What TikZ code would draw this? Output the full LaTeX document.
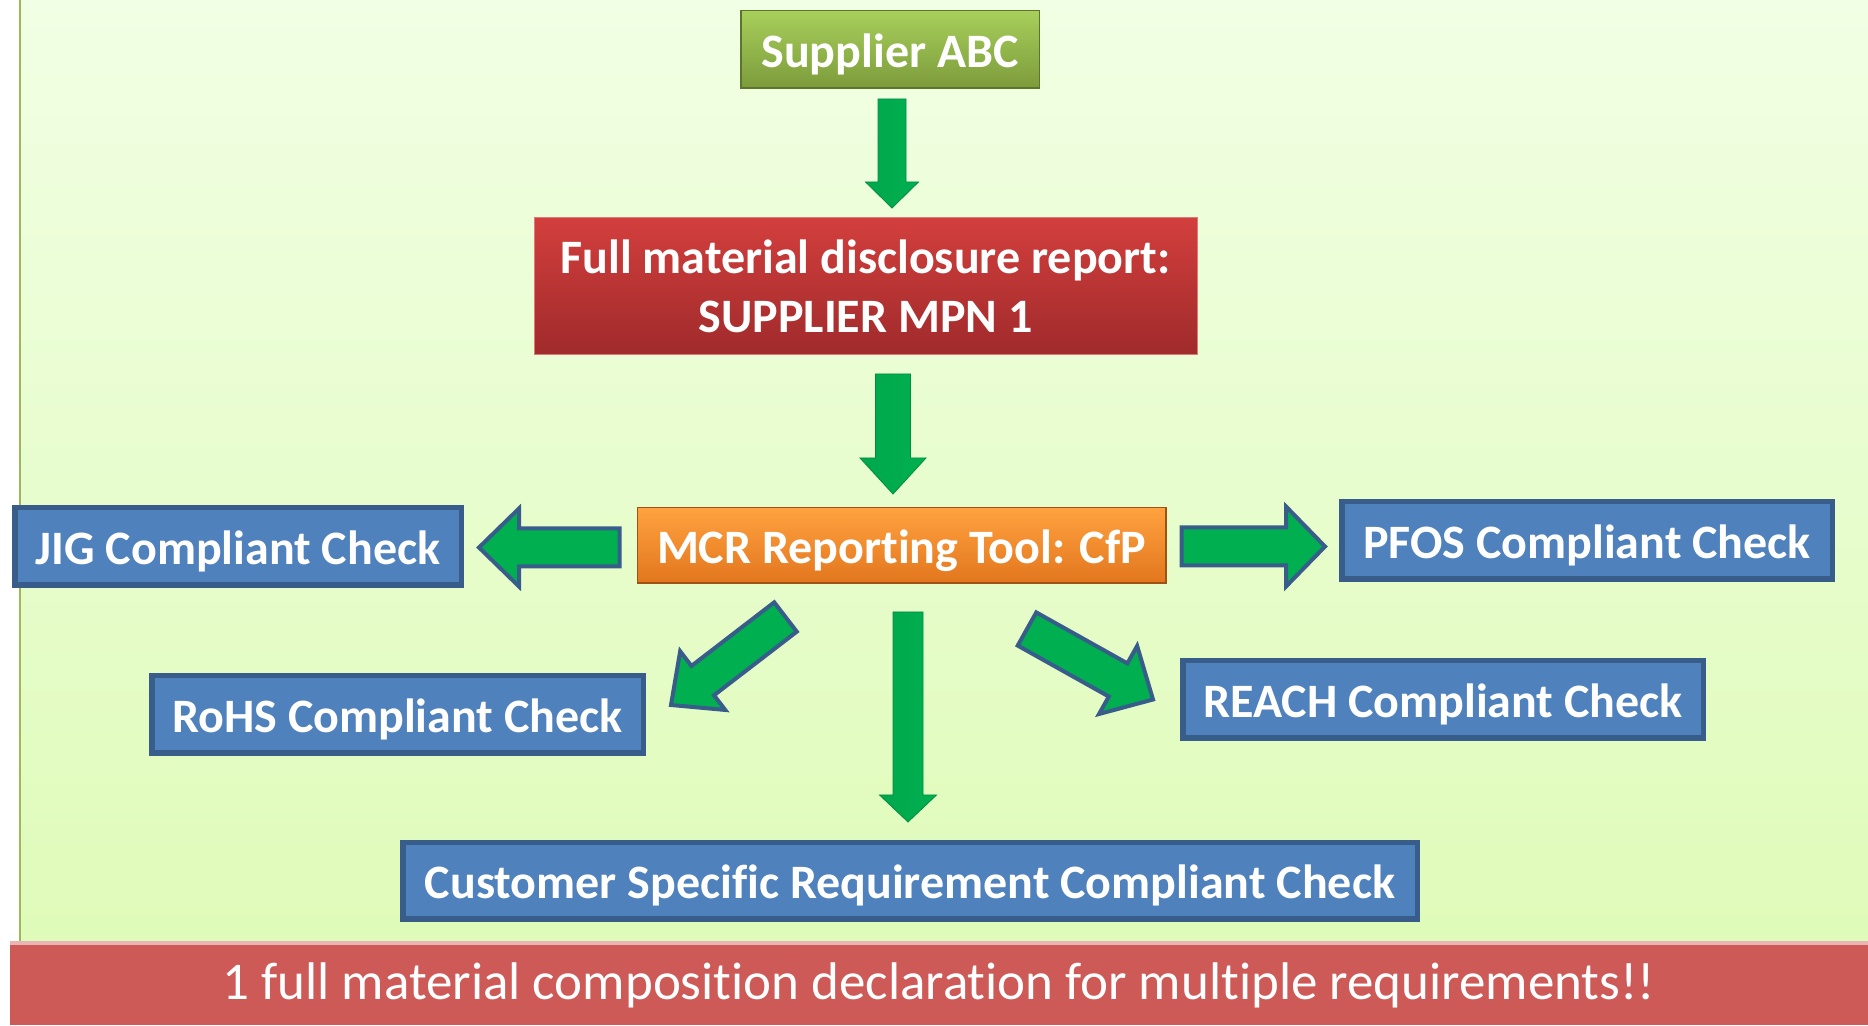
\documentclass[tikz,border=0pt]{standalone}
\usepackage{fontspec}
\setmainfont{Carlito}[Ligatures=CommonOff]
\usepackage{tikz}
\usetikzlibrary{calc,positioning}
\definecolor{colorbg}{HTML}{F1FFE4}
\definecolor{colorbgb}{HTML}{DFFBB9}
\definecolor{colorline}{HTML}{9BBB59}
\definecolor{colorsup}{HTML}{A8CF5B}
\definecolor{colorsupb}{HTML}{7C9B3B}
\definecolor{colorrep}{HTML}{D23F3D}
\definecolor{colorrepb}{HTML}{A02A2B}
\definecolor{colormcr}{HTML}{FFA23F}
\definecolor{colormcrb}{HTML}{E2761E}
\definecolor{colorchk}{HTML}{4F81BD}
\definecolor{colorchkb}{HTML}{385D8A}
\definecolor{colorarr}{HTML}{00B050}
\definecolor{colornote}{HTML}{CD5A57}
\tikzset{
  box/.style={inner sep=0pt, text=white, align=center,
    font=\bfseries\fontsize{48}{59}\selectfont},
  onerow/.style={text height=42pt, text depth=6pt},
  supbox/.style={box, onerow, draw=colorsupb!75!black, line width=1.5pt,
    top color=colorsup, bottom color=colorsupb},
  repbox/.style={box, draw=colorrep!70!white, line width=1pt,
    top color=colorrep, bottom color=colorrepb},
  mcrbox/.style={box, onerow, draw=colormcrb!70!black, line width=1.5pt,
    top color=colormcr, bottom color=colormcrb},
  chkbox/.style={box, onerow, draw=colorchkb, line width=5.5pt, fill=colorchk,
    minimum height=77.5pt},
  notebox/.style={inner sep=0pt, text=white, fill=colornote,
    text height=44pt, text depth=10pt,
    font=\fontsize{53}{64}\selectfont},
  bigarrow/.style n args={3}{to path={
    let \p1=(\tikztostart), \p2=(\tikztotarget),
        \p3=($(\p2)!#3pt!(\p1)$) in
    ($(\p1)!#1pt!90:(\p2)$) -- ($(\p3)!#1pt!90:(\p2)$)
    -- ($(\p3)!#2pt!90:(\p2)$) -- (\p2)
    -- ($(\p3)!#2pt!-90:(\p2)$) -- ($(\p3)!#1pt!-90:(\p2)$)
    -- ($(\p1)!#1pt!-90:(\p2)$) -- cycle}},
  sidearrow/.style={draw=colorchkb, line width=4pt, fill=colorarr,
    line join=miter},
  downarrow/.style={draw=colorarr!80!black, line width=0.8pt,
    left color=colorarr!95!black, middle color=colorarr!85!white,
    right color=colorarr}
}

\begin{document}
\begin{tikzpicture}[x=1pt, y=1pt]
\useasboundingbox (0,0) rectangle (1868,1025);
% background
\fill[white] (0,0) rectangle (1868,1025);
\shade[top color=colorbg, bottom color=colorbgb] (20,84) rectangle (1868,1025);
\draw[colorline, line width=2pt] (20,84) -- (20,1025);

\node[supbox, minimum width=298.5pt, minimum height=77.5pt] (sup)
  at (890,975.5) {Supplier ABC};

\node[repbox, minimum width=663pt, minimum height=137pt] (rep)
  at (865.5,739) {Full material disclosure report:\\SUPPLIER MPN 1};

\node[mcrbox, minimum width=528.5pt, minimum height=75.5pt] (mcr)
  at (901.5,479.5) {MCR Reporting Tool: CfP};

\node[chkbox, minimum width=446.5pt] (jig) at (238,478.5)
  {JIG Compliant Check};
\node[chkbox, minimum width=490.5pt] (pfos) at (1587,484.5)
  {PFOS Compliant Check};
\node[chkbox, minimum width=491.5pt] (rohs) at (397.5,310.5)
  {RoHS Compliant Check};
\node[chkbox, minimum width=520.5pt] (reach) at (1443,325.5)
  {REACH Compliant Check};
\node[chkbox, minimum width=1014.5pt, minimum height=76.5pt] (cust)
  at (910,144) {Customer Specific Requirement Compliant Check};

\node[notebox, minimum width=1858pt, minimum height=84pt] (note)
  at (939,42) {1 full material composition declaration for multiple requirements!!};
\draw[colornote!45!white, line width=4pt]
  ([yshift=-2pt]note.north west) -- ([yshift=-2pt]note.north east);

% arrows
\draw[downarrow] ($(sup.south)+(2,-10)$)
  to[bigarrow={14}{26.5}{26}] ($(sup.south |- rep.north)+(2,9)$);

\draw[downarrow] ($(sup.south |- rep.south)+(3,-19)$)
  to[bigarrow={17.5}{33}{36}] ($(sup.south |- mcr.north)+(3,13)$);

\draw[sidearrow] ($(mcr.west)+(-17,-2)$)
  to[bigarrow={19}{39}{40}] ($(mcr.west -| jig.east)+(15,-2)$);

\draw[sidearrow] ($(mcr.east)+(15,-1)$)
  to[bigarrow={19}{40}{39}] ($(mcr.east -| pfos.west)+(-14,-1)$);

\draw[sidearrow] ($(mcr.south)+(-116,-33)$)
  to[bigarrow={18.5}{37}{40}] ($(rohs.north east)+(25,-32)$);

\draw[sidearrow] ($(mcr.south)+(125.5,-45)$)
  to[bigarrow={19}{39}{40}] ($(reach.west)+(-27,0)$);

\draw[downarrow] ($(mcr.south -| cust.north)+(-2,-28)$)
  to[bigarrow={15}{28.5}{27}] ($(cust.north)+(-2,18)$);
\end{tikzpicture}
\end{document}
